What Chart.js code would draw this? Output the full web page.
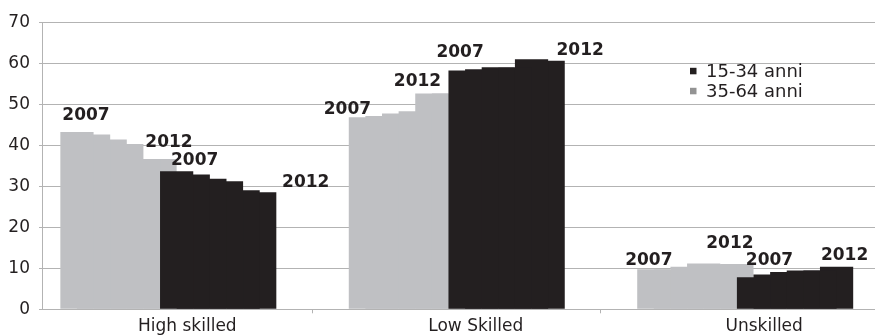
<!DOCTYPE html>
<html>
<head>
<meta charset="utf-8">
<script src="https://cdn.jsdelivr.net/npm/chart.js@4.4.1/dist/chart.umd.min.js"></script>
<style>
  html, body { margin: 0; padding: 0; background: #fff; }
  #wrap { width: 875px; height: 335px; }
</style>
</head>
<body>
<div id="wrap"><canvas id="skillChart"></canvas></div>
<script>
// ===============================
// DATA
// ===============================

const categories = ['High skilled', 'Low Skilled', 'Unskilled'];
const years = ['2007', '2008', '2009', '2010', '2011', '2012'];
const seriesNames = ['15-34 anni', '35-64 anni'];

// 35-64 anni (grey), 2007 -> 2012
const oldHigh = [43.3, 42.7, 41.5, 40.4, 36.7, 36.7];
const oldLow  = [46.9, 47.2, 47.8, 48.4, 52.7, 52.7];
const oldUnsk = [9.8, 9.7, 10.4, 11.2, 11.0, 11.05];

// 15-34 anni (black), 2007 -> 2012
const youngHigh = [33.7, 32.9, 31.9, 31.3, 29.1, 28.6];
const youngLow  = [58.3, 58.6, 59.1, 59.0, 61.1, 60.7];
const youngUnsk = [7.8, 8.5, 9.1, 9.5, 9.5, 10.4];

const yTicks = [0, 10, 20, 30, 40, 50, 60, 70];

// ===============================
// STYLE
// ===============================

const GRAY = '#bfc0c3';
const BLACK = '#231f20';
const TEXT = '#231f20';
const GRID = '#b3b3b3';
const FONT = '"DejaVu Sans", sans-serif';
const SLOT = 0.0576;   // step between two bars, as a share of one category

const oldSeries = [oldHigh, oldLow, oldUnsk];
const youngSeries = [youngHigh, youngLow, youngUnsk];

// bars are two steps wide and shifted by one step, like Excel's overlap
function buildSet(series, yi, slot, color, order, group) {
    return {
        label: group + ' ' + years[yi],
        data: categories.map((c, ci) => ({ x: ci + (slot - 5.5) * SLOT, y: series[ci][yi] })),
        backgroundColor: color,
        borderWidth: 0,
        order: order,       // lower order = drawn on top
        group: group,
        year: years[yi]
    };
}

const datasets = [];
years.forEach((y, yi) => datasets.push(buildSet(oldSeries, yi, yi, GRAY, 6 + yi, 'old')));
years.forEach((y, yi) => datasets.push(buildSet(youngSeries, yi, 6 + yi, BLACK, yi, 'young')));

// ---- year labels, placed by hand in the original ----
const labelNudge = {
    old2007:   [[9, -12], [-18, -3], [-5, -4]],
    old2012:   [[9, -12], [-31, -8], [-7, -16]],
    young2007: [[18, -6], [-5, -14], [16, -12]],
    young2012: [[46, -5], [32, -6], [8, -7]]
};

const yearLabels = {
    id: 'yearLabels',
    afterDatasetsDraw(chart) {
        const c = chart.ctx;
        c.save();
        c.font = 'bold 17px ' + FONT;
        c.fillStyle = TEXT;
        c.textAlign = 'center';
        c.textBaseline = 'alphabetic';
        chart.data.datasets.forEach((ds, i) => {
            const nudge = labelNudge[ds.group + ds.year];
            if (!nudge) return;
            chart.getDatasetMeta(i).data.forEach((bar, ci) => {
                c.fillText(ds.year, bar.x + nudge[ci][0], bar.y + nudge[ci][1]);
            });
        });
        c.restore();
    }
};

// ---- small legend inside the plot ----
const boxLegend = {
    id: 'boxLegend',
    afterDraw(chart, args, opts) {
        const c = chart.ctx;
        c.save();
        c.font = '18px ' + FONT;
        c.textBaseline = 'alphabetic';
        c.textAlign = 'left';
        seriesNames.forEach((name, i) => {
            const y = opts.y + i * opts.lineHeight;
            c.fillStyle = opts.colors[i];
            c.fillRect(opts.x, y - 9.5, 6.5, 6.5);
            c.fillStyle = TEXT;
            c.fillText(name, opts.x + 16, y);
        });
        c.restore();
    }
};

// ===============================
// CHART
// ===============================

new Chart(document.getElementById('skillChart').getContext('2d'), {
    type: 'bar',
    data: { datasets: datasets },
    plugins: [yearLabels, boxLegend],
    options: {
        responsive: true,
        maintainAspectRatio: false,
        animation: false,
        layout: { padding: { top: 22.7, right: 0, left: 0, bottom: 0 } },
        datasets: { bar: { grouped: false, categoryPercentage: 1, barPercentage: 2 } },
        plugins: {
            legend: { display: false },
            tooltip: { enabled: false },
            boxLegend: { x: 690, y: 77.3, lineHeight: 20, colors: [BLACK, '#939393'] }
        },
        scales: {
            x: {
                type: 'linear',
                position: 'bottom',
                offset: false,
                min: -0.438,
                max: 2.45,
                afterFit: scale => { scale.height = 25.7; },
                border: { color: GRID },
                grid: {
                    offset: false,
                    drawOnChartArea: false,
                    tickLength: 4,
                    tickColor: ctx => (ctx.tick && !Number.isInteger(ctx.tick.value)) ? GRID : 'rgba(0,0,0,0)'
                },
                ticks: {
                    stepSize: 0.5,
                    includeBounds: false,
                    autoSkip: false,
                    maxRotation: 0,
                    labelOffset: 19,
                    padding: 3,
                    color: TEXT,
                    font: { family: FONT, size: 17 },
                    callback: v => Number.isInteger(v) ? categories[v] : ''
                }
            },
            y: {
                min: yTicks[0],
                max: yTicks[yTicks.length - 1],
                afterFit: scale => { scale.width = 42; },
                border: { color: GRID },
                grid: { color: GRID, tickLength: 3 },
                ticks: {
                    stepSize: 10,
                    padding: 9,
                    color: TEXT,
                    font: { family: FONT, size: 17 }
                }
            }
        }
    }
});
</script>
</body>
</html>
